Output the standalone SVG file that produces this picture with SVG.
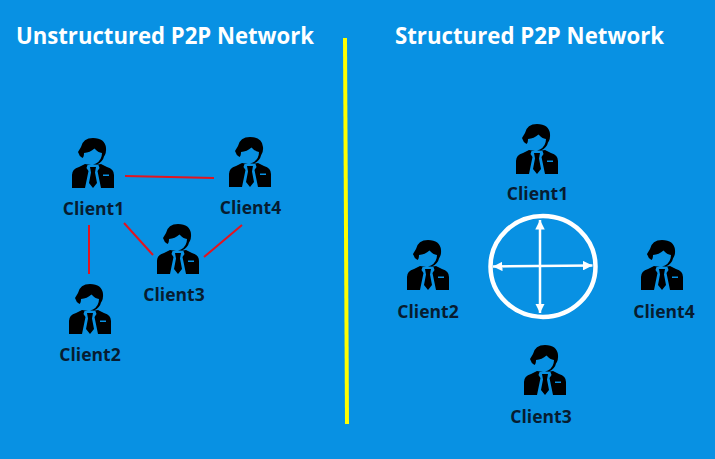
<svg xmlns="http://www.w3.org/2000/svg" width="715" height="459" viewBox="0 0 715 459">
<style>
.t{font-family:"Open Sans","Noto Sans","Liberation Sans",sans-serif;font-weight:700}
.h{font-size:22.500px;fill:#fff}
.c{font-size:17.500px;fill:#071c30;text-anchor:middle}
.r{stroke:#e3141f;stroke-width:2;fill:none}
.w{stroke:#fff;stroke-width:2.500;fill:none}
.a{fill:#fff}
</style>
<defs>
<symbol id="p" overflow="visible" viewBox="-21 0 42 50" width="42" height="50" x="-21" y="0">
<path fill="#000" d="M-21,50V37Q-21,31 -14,29L-8,26L-2,27H2L8,26L14,29Q21,31 21,37V50Z"/>
<path fill="#0891e3" d="M-5.500,27H5.500L6.500,30L4.500,33L8,50H-8L-4.500,33L-6.500,30Z"/>
<path fill="#000" d="M-3,29H3L2,34.500L4,45L0,50L-4,45L-2,34.500Z"/>
<path fill="#0891e3" d="M10,36.500H16V38H10Z"/>
<path fill="#000" d="M-10.500,20Q-9,19 -9,15Q-3,14.500 1.500,10.500Q5,14.500 9,15Q9,22 3,25.500L0,26.500L4,26.500Q10,23.500 11,18.500Q13.500,15 13,10Q12,0 0,0Q-10,0 -12,9L-15,14Q-14,18 -10.500,20Z"/>
</symbol>
<marker id="ah" viewBox="0 0 10 10" refX="10" refY="5" markerWidth="9.500" markerHeight="9.500" markerUnits="userSpaceOnUse" orient="auto-start-reverse"><path class="a" d="M0,0L10,5L0,10Z"/></marker>
</defs>
<rect width="715" height="459" fill="#0891e3"/>
<text class="t h" x="16" y="43.500" textLength="298" lengthAdjust="spacingAndGlyphs">Unstructured P2P Network</text>
<text class="t h" x="395" y="43.500" textLength="269" lengthAdjust="spacingAndGlyphs">Structured P2P Network</text>
<g id="connectors">
<path class="r" d="M125,176L214,178"/>
<path class="r" d="M89,225V274"/>
<path class="r" d="M124,223L153,255"/>
<path class="r" d="M242,225L204,257"/>
<path d="M345,38L347,424" stroke="#ffff00" stroke-width="4" fill="none"/>
<path class="w" d="M540,220V313" marker-start="url(#ah)" marker-end="url(#ah)"/>
<path class="w" d="M493,266.500L592.500,265.500" marker-start="url(#ah)" marker-end="url(#ah)"/>
</g>
<g id="ring"><ellipse cx="543" cy="266.500" rx="52.500" ry="50.500" fill="none" stroke="#fff" stroke-width="4.500"/></g>
<g id="u-client1"><use href="#p" x="93" y="138"/><text class="t c" x="93.500" y="214.500">Client1</text></g>
<g id="u-client4"><use href="#p" x="250" y="137"/><text class="t c" x="250.500" y="213.500">Client4</text></g>
<g id="u-client3"><use href="#p" x="178" y="224"/><text class="t c" x="174" y="300.500">Client3</text></g>
<g id="u-client2"><use href="#p" x="90" y="284"/><text class="t c" x="90" y="360.500">Client2</text></g>
<g id="s-client1"><use href="#p" x="537" y="124"/><text class="t c" x="537.500" y="200">Client1</text></g>
<g id="s-client2"><use href="#p" x="428" y="240"/><text class="t c" x="428" y="317.500">Client2</text></g>
<g id="s-client4"><use href="#p" x="662" y="240"/><text class="t c" x="664" y="317.500">Client4</text></g>
<g id="s-client3"><use href="#p" x="545" y="345"/><text class="t c" x="541" y="422.500">Client3</text></g>
</svg>
